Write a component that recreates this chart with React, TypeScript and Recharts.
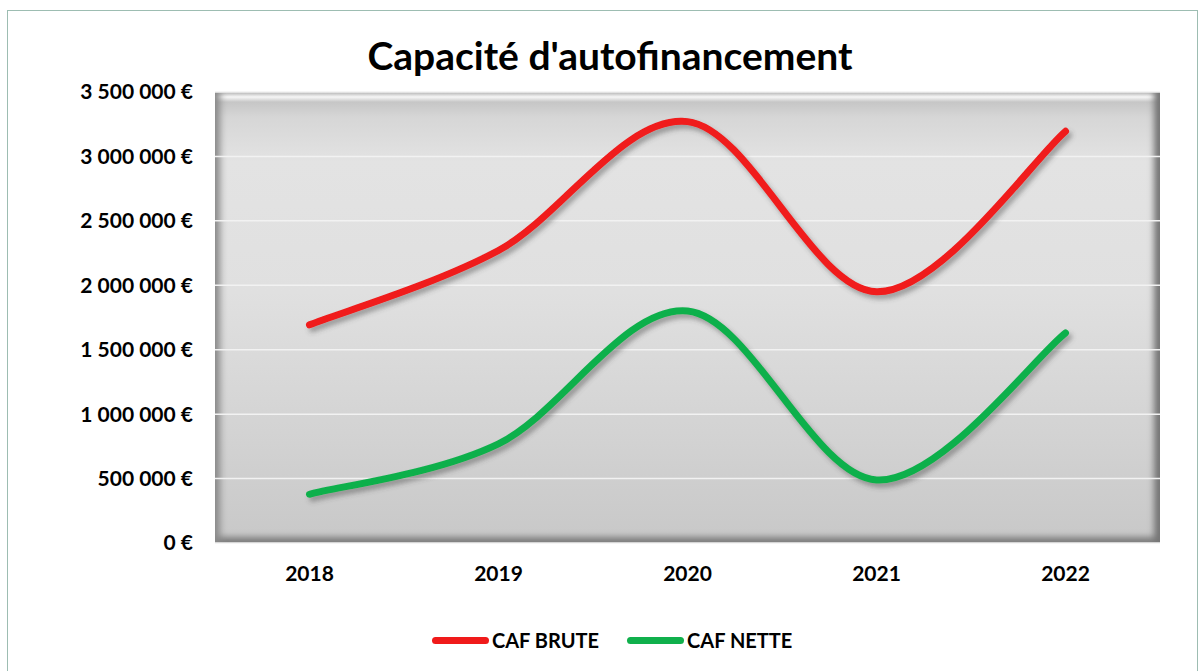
import React from "react";
import { LineChart, Line, XAxis, YAxis, CartesianGrid } from "recharts";

const years = ["2018", "2019", "2020", "2021", "2022"];
const cafBrute = [1693000, 2270000, 3270000, 1950000, 3195000];
const cafNette = [378000, 770000, 1800000, 489000, 1630000];
const yTicks = [0, 500000, 1000000, 1500000, 2000000, 2500000, 3000000, 3500000];

const series = [
  { key: "brute", name: "CAF BRUTE", color: "#f01a1a" },
  { key: "nette", name: "CAF NETTE", color: "#10b04c" },
];

const data = years.map((year, i) => ({
  year,
  brute: cafBrute[i],
  nette: cafNette[i],
}));

const FONT = "Lato, 'Open Sans', sans-serif";

// Excel-style smoothed line (Catmull-Rom with duplicated end points)
function excelSmooth(context: any) {
  let pts: number[][] = [];
  return {
    areaStart() {},
    areaEnd() {},
    lineStart() {
      pts = [];
    },
    point(x: number, y: number) {
      pts.push([+x, +y]);
    },
    lineEnd() {
      if (!pts.length) return;
      context.moveTo(pts[0][0], pts[0][1]);
      for (let i = 0; i < pts.length - 1; i++) {
        const p0 = pts[i - 1] || pts[i];
        const p1 = pts[i];
        const p2 = pts[i + 1];
        const p3 = pts[i + 2] || p2;
        context.bezierCurveTo(
          p1[0] + (p2[0] - p0[0]) / 6,
          p1[1] + (p2[1] - p0[1]) / 6,
          p2[0] - (p3[0] - p1[0]) / 6,
          p2[1] - (p3[1] - p1[1]) / 6,
          p2[0],
          p2[1]
        );
      }
    },
  };
}

const formatEuro = (v: number) =>
  v.toString().replace(/\B(?=(\d{3})+(?!\d))/g, "\u00a0") + "\u00a0€";

export default function App() {
  return (
    <div
      style={{
        position: "absolute",
        left: 0,
        top: 0,
        width: 1204,
        height: 671,
        overflow: "hidden",
        background: "#fff",
        fontFamily: FONT,
      }}
    >
      <div
        style={{
          position: "absolute",
          left: 7,
          top: 10,
          width: 1189,
          height: 690,
          border: "1px solid #9dbdb2",
        }}
      />
      {/* plot area background with bevel */}
      <div
        style={{
          position: "absolute",
          left: 215,
          top: 92,
          width: 945,
          height: 451,
          background:
            "linear-gradient(to bottom, #b8b8b8 0px, #f6f6f6 5px, #c6c6c6 10px, #d6d6d6 25px, #e3e3e3 70px, #e0e0e0 200px, #d2d2d2 350px, #c8c8c8 451px)",
          boxShadow:
            "inset 10px 0 7px -5px #8a8a8a, inset -10px 0 6px -4px #767676, inset 0 -10px 6px -4px #7e7e7e",
        }}
      />
      <div
        style={{
          position: "absolute",
          left: 0,
          width: 1220,
          top: 36,
          textAlign: "center",
          fontSize: 39,
          fontWeight: 700,
          lineHeight: 1,
          color: "#000",
        }}
      >
        Capacité d'autofinancement
      </div>
      <div style={{ position: "absolute", left: 0, top: 0 }}>
        <LineChart
          width={1204}
          height={671}
          data={data}
          margin={{ top: 92, right: 44, left: 0, bottom: 88 }}
        >
          <defs>
            <filter id="lineShadow" x="-10%" y="-10%" width="120%" height="130%">
              <feDropShadow dx="3" dy="4" stdDeviation="2.5" floodColor="#444" floodOpacity="0.45" />
            </filter>
          </defs>
          <CartesianGrid vertical={false} stroke="#f2f2f2" strokeWidth={1.5} />
          <XAxis
            dataKey="year"
            axisLine={false}
            tickLine={false}
            tickSize={0}
            tickMargin={23}
            height={40}
            padding={{ left: 94.5, right: 94.5 }}
            tick={{ fill: "#000", fontSize: 21, fontWeight: 700, fontFamily: FONT }}
          />
          <YAxis
            width={215}
            domain={[0, 3500000]}
            ticks={yTicks}
            axisLine={false}
            tickLine={false}
            tickSize={0}
            tickMargin={22}
            tickFormatter={formatEuro}
            tick={{ fill: "#000", fontSize: 21, fontWeight: 700, fontFamily: FONT }}
          />
          {series.map((s) => (
            <Line
              key={s.key}
              dataKey={s.key}
              name={s.name}
              type={excelSmooth as any}
              stroke={s.color}
              strokeWidth={7}
              strokeLinecap="round"
              dot={false}
              activeDot={false}
              filter="url(#lineShadow)"
              isAnimationActive={false}
            />
          ))}
        </LineChart>
      </div>
      <div
        style={{
          position: "absolute",
          left: 432,
          top: 628,
          display: "flex",
          alignItems: "center",
          fontSize: 20,
          fontWeight: 700,
          color: "#000",
        }}
      >
        {series.map((s) => (
          <div key={s.key} style={{ display: "flex", alignItems: "center", marginRight: 28 }}>
            <span
              style={{
                display: "inline-block",
                width: 57,
                height: 7,
                borderRadius: 4,
                background: s.color,
                marginRight: 3,
              }}
            />
            <span>{s.name}</span>
          </div>
        ))}
      </div>
    </div>
  );
}
